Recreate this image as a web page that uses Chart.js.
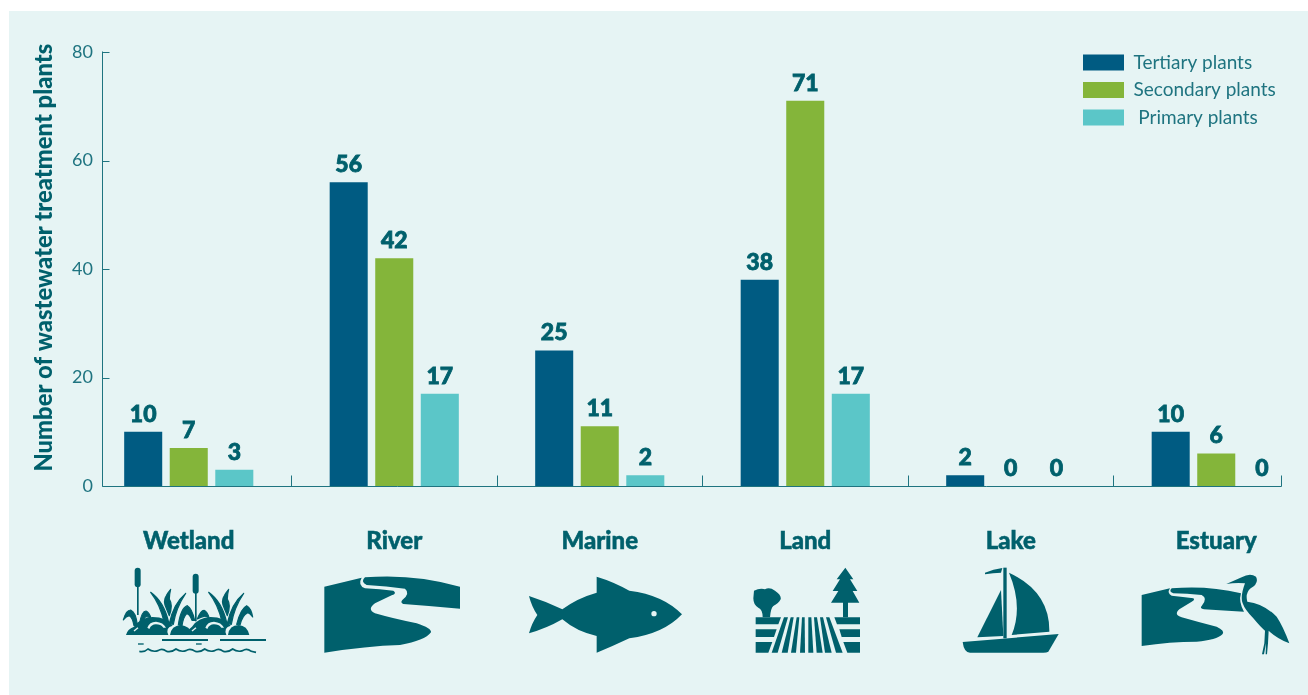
<!DOCTYPE html>
<html>
<head>
<meta charset="utf-8">
<style>
  html, body { margin: 0; padding: 0; background: #fff; overflow: hidden; width: 1308px; height: 695px; }
  #panel { position: absolute; left: 9px; top: 11px; width: 1299px; height: 684px; background: #e6f4f4; }
  #wrap { position: absolute; left: 0; top: 0; width: 1308px; height: 695px; overflow: hidden; }
  canvas { position: absolute; left: 0; top: 0; }
  svg.icon { position: absolute; left: 0; top: 0; }
</style>
</head>
<body>
<div id="panel"></div>
<div id="wrap"><canvas id="chart" width="1319" height="695"></canvas></div>
<svg class="icon" width="1308" height="695" fill="#00606c">
  <!-- Wetland -->
  <g transform="translate(110 555) scale(0.33333)">
    <rect x="74" y="38" width="18" height="59" rx="9"/><rect x="81" y="95" width="5" height="85"/>
    <rect x="248" y="56" width="18" height="60" rx="9"/><rect x="255" y="114" width="5" height="85"/>
    <g stroke="#00606c" stroke-width="3.500" stroke-linejoin="round">
      <path d="M40 195Q48 165 62 165Q78 172 82 210L72 212Q68 188 58 182Q48 184 40 195Z"/>
      <path d="M88 208Q95 168 108 168Q118 172 124 192Q112 182 106 186Q98 194 96 208Z"/>
      <path d="M122 112Q162 140 176 202L162 200Q150 148 122 112Z"/>
      <path d="M182 103Q158 130 165 150Q172 168 178 182Q190 150 178 132Q178 118 182 103Z"/>
      <path d="M227 115Q190 146 178 205L190 208Q198 158 227 115Z"/>
      <path d="M205 210Q212 160 232 152Q246 160 254 196L246 196Q238 176 230 176Q220 186 216 212Z"/>
      <path d="M262 192Q272 166 282 166Q292 170 298 190Q288 182 282 184Q272 186 262 192Z"/>
      <path d="M296 112Q336 140 350 202L336 200Q324 148 296 112Z"/>
      <path d="M356 103Q332 130 339 150Q346 168 352 182Q364 150 352 132Q352 118 356 103Z"/>
      <path d="M401 115Q364 146 352 205L364 208Q372 158 401 115Z"/>
      <path d="M380 208Q392 160 410 152Q424 160 428 186Q418 172 412 174Q398 180 390 210Z"/>
    </g>
    <path d="M48 240Q52 222 72 215Q90 188 128 186Q170 186 188 212Q165 218 175 240Z"/>
    <path d="M180 240Q184 212 212 210Q238 212 250 240Z"/>
    <path d="M222 240Q236 222 246 215Q264 188 302 186Q344 186 362 212Q340 218 349 240Z"/>
    <path d="M354 240Q358 210 386 210Q412 212 418 240Z"/>
    <path d="M112 218Q118 200 138 200Q160 202 168 218L160 218Q152 208 138 208Q124 208 118 222Z" fill="#e6f4f4"/>
    <path d="M286 218Q292 200 312 200Q334 202 342 218L334 218Q326 208 312 208Q298 208 292 222Z" fill="#e6f4f4"/>
    <path d="M72 228L84 218" stroke="#e6f4f4" stroke-width="4"/>
    <path d="M246 228L258 218" stroke="#e6f4f4" stroke-width="4"/>
    <rect x="156" y="252" width="138" height="6"/><rect x="330" y="252" width="138" height="6"/>
    <rect x="84" y="265" width="17" height="4"/><rect x="258" y="265" width="17" height="4"/>
    <path d="M88 289Q104 292 114 282Q128 292 144 287Q156 278 170 289Q186 292 198 282Q212 292 228 287Q240 278 256 289Q272 292 284 282Q298 292 314 287Q326 278 340 289Q356 292 368 282Q382 292 398 287Q410 278 424 289L438 292" fill="none" stroke="#00606c" stroke-width="5"/>
  </g>
  <!-- River -->
  <g transform="translate(100 520) scale(0.33333)">
    <path d="M673 200L785 173Q772 195 795 205Q840 207 880 212Q892 220 875 226L825 250Q800 268 825 280Q880 296 950 310Q995 325 993 337Q975 362 900 375Q800 378 673 398Z"/>
    <path d="M795 172Q940 160 1080 200L1080 266Q990 258 910 252Q900 248 907 240Q932 220 915 206Q860 198 800 195Q780 185 795 172Z"/>
  </g>
  <!-- Marine -->
  <g transform="translate(510 520) scale(0.33333)">
    <path d="M57 228Q110 245 157 268Q200 235 260 218L260 170Q310 185 358 212Q460 225 516 283Q460 342 358 355Q310 378 260 398L260 348Q200 335 157 298Q110 325 57 340Q65 310 82 285Q65 260 57 228Z"/>
    <circle cx="432" cy="281" r="8" fill="#e6f4f4"/>
  </g>
  <!-- Land -->
  <g transform="translate(510 520) scale(0.33333)">
    <path d="M732 212Q750 203 765 208Q778 200 795 212Q815 225 812 238Q806 250 790 258Q782 265 780 292L758 292Q758 268 745 263Q730 255 730 235Z"/>
    <path d="M737 292L813 292L805 313L737 313Z"/><path d="M737 328L800 328L792 351L737 351Z"/><path d="M737 366L787 366L775 398L737 398Z"/>
    <path d="M822 292L834 292L803 398L785 398Z"/><path d="M842 292L851 292L833 398L815 398Z"/>
    <path d="M860 292L868 292L858 398L843 398Z"/><path d="M876 292L884 292L885 398L870 398Z"/>
    <path d="M895 292L904 292L910 398L895 398Z"/><path d="M912 292L921 292L938 398L920 398Z"/>
    <path d="M930 292L939 292L965 398L945 398Z"/><path d="M948 292L958 292L998 398L978 398Z"/>
    <path d="M1006 143L1030 178L1020 178L1042 213L1028 213L1048 248L1014 248L1014 292L999 292L999 248L963 248L985 213L968 213L990 178L980 178Z"/>
    <path d="M973 292L1050 292L1050 313L981 313Z"/><path d="M988 328L1050 328L1050 351L995 351Z"/><path d="M1000 366L1050 366L1050 398L1012 398Z"/>
  </g>
  <!-- Lake -->
  <g transform="translate(940 520) scale(0.33333)">
    <path d="M135 158Q160 148 187 144L183 158Q160 158 135 163Z"/>
    <rect x="190" y="143" width="10" height="212"/>
    <path d="M183 210L190 348L112 352Z"/>
    <path d="M207 158Q330 215 328 335L215 345Q250 260 207 158Z"/>
    <path d="M68 366L356 342L325 395Q320 398 310 398L90 398Q72 398 68 366Z"/>
  </g>
  <!-- Estuary -->
  <g transform="translate(1130 560) scale(0.33333)">
    <path d="M35 105L120 85Q110 100 125 107Q160 110 190 115Q196 120 185 125L148 148Q130 165 155 172Q210 188 260 200Q285 212 278 222Q260 240 200 245Q120 245 35 258Z"/>
    <path d="M125 85Q230 75 333 100Q325 125 342 155Q280 152 222 148Q208 145 215 138Q235 115 215 105Q170 100 130 100Q115 95 125 85Z"/>
    <path d="M289 72L335 52Q360 38 378 50Q388 70 362 85Q345 100 352 125Q400 130 440 170Q460 200 478 250Q440 235 416 212L414 250L411 283L407 283L408 250L402 283L396 283L403 250L405 212Q395 205 370 175Q345 150 338 130Q330 110 345 70Q315 68 289 72Z"/>
  </g>
</svg>
<script src="https://cdn.jsdelivr.net/npm/chart.js@4"></script>
<script>
// Wastewater treatment plants by receiving environment
const categories = ['Wetland', 'River', 'Marine', 'Land', 'Lake', 'Estuary'];
const tertiaryPlants = [10, 56, 25, 38, 2, 10];
const secondaryPlants = [7, 42, 11, 71, 0, 6];
const primaryPlants = [3, 17, 2, 17, 0, 0];
const yTicks = [0, 20, 40, 60, 80];

const INK = '#00606c';
const AXIS = '#1f7480';
const FAMILY = 'Lato, "Open Sans", sans-serif';

// The value axis and the end of the baseline sit inside the outer category bands.
const AXIS_START = -0.42;
const AXIS_END = 5.317;

const axisLines = {
  id: 'axisLines',
  afterDatasetsDraw(chart) {
    const { ctx, scales: { x, y } } = chart;
    const ax = Math.round(x.getPixelForValue(AXIS_START)) + 0.5;
    const end = Math.round(x.getPixelForValue(AXIS_END)) + 0.5;
    const base = Math.round(y.getPixelForValue(0)) + 0.5;
    ctx.save();
    ctx.strokeStyle = AXIS;
    ctx.lineWidth = 1;
    ctx.beginPath();
    ctx.moveTo(ax, y.getPixelForValue(80) - 0.5);
    ctx.lineTo(ax, base);
    ctx.lineTo(end, base);
    ctx.lineTo(end, base - 11);
    yTicks.forEach(t => {
      const p = Math.round(y.getPixelForValue(t)) + 0.5;
      ctx.moveTo(ax, p);
      ctx.lineTo(ax + 7, p);
    });
    for (let i = 0; i < categories.length - 1; i++) {
      const p = Math.floor(x.getPixelForValue(i + 0.5)) + 0.5;
      ctx.moveTo(p, base);
      ctx.lineTo(p, base - 11);
    }
    ctx.stroke();
    ctx.restore();
  }
};

const valueLabels = {
  id: 'valueLabels',
  afterDatasetsDraw(chart) {
    const { ctx } = chart;
    ctx.save();
    ctx.fillStyle = INK;
    ctx.strokeStyle = INK;
    ctx.lineWidth = 0.8;
    ctx.font = '900 23px ' + FAMILY;
    ctx.textAlign = 'center';
    ctx.textBaseline = 'alphabetic';
    chart.data.datasets.forEach((ds, di) => {
      chart.getDatasetMeta(di).data.forEach((bar, i) => {
        ctx.fillText(String(ds.data[i]), bar.x, bar.y - 10);
        ctx.strokeText(String(ds.data[i]), bar.x, bar.y - 10);
      });
    });
    ctx.restore();
  }
};

// The legend keeps the library's item drawing but lives in the upper right corner.
const LEGEND_LEFT = 1074.5;
const LEGEND_TOP = 44.5;
const legendCorner = {
  id: 'legendCorner',
  afterLayout(chart) {
    const l = chart.legend;
    l.left = LEGEND_LEFT;
    l.right = LEGEND_LEFT + 228;
    l.top = LEGEND_TOP;
    l.bottom = LEGEND_TOP + 100;
  }
};

new Chart(document.getElementById('chart'), {
  type: 'bar',
  data: {
    labels: categories,
    datasets: [
      { label: 'Tertiary plants', data: tertiaryPlants, backgroundColor: '#005b82' },
      { label: 'Secondary plants', data: secondaryPlants, backgroundColor: '#84b53a' },
      { label: ' Primary plants', data: primaryPlants, backgroundColor: '#5bc6c8' }
    ]
  },
  options: {
    responsive: false,
    animation: false,
    datasets: { bar: { categoryPercentage: 0.665, barPercentage: 0.835 } },
    layout: { padding: { left: 0, right: 0, top: 52, bottom: 0 } },
    plugins: {
      tooltip: { enabled: false },
      legend: {
        position: 'chartArea',
        align: 'start',
        labels: {
          boxWidth: 41, boxHeight: 16, color: '#1f7480', padding: 8.5,
          font: { family: FAMILY, size: 19, weight: '400' }
        }
      }
    },
    scales: {
      x: {
        grid: { display: false, drawTicks: false },
        border: { display: false },
        afterFit(s) { s.height = 209; },
        ticks: {
          color: INK, padding: 41, maxRotation: 0,
          textStrokeColor: INK, textStrokeWidth: 0.5,
          font: { family: FAMILY, size: 24, weight: '900' }
        }
      },
      y: {
        min: 0, max: 80,
        afterFit(s) { s.width = 86; },
        afterBuildTicks(s) { s.ticks = yTicks.map(value => ({ value })); },
        grid: { display: false, drawTicks: false },
        border: { display: false },
        title: {
          display: true, text: '    Number of wastewater treatment plants',
          color: INK, padding: { top: 30, bottom: 0 },
          font: { family: FAMILY, size: 23.8, weight: '900' }
        },
        ticks: {
          color: '#1f7480', padding: -14, mirror: true,
          callback(v) { return String(v).padStart(2, '\u2007'); },
          font: { family: FAMILY, size: 18, weight: '400' }
        }
      }
    }
  },
  plugins: [axisLines, valueLabels, legendCorner]
});
</script>
</body>
</html>
